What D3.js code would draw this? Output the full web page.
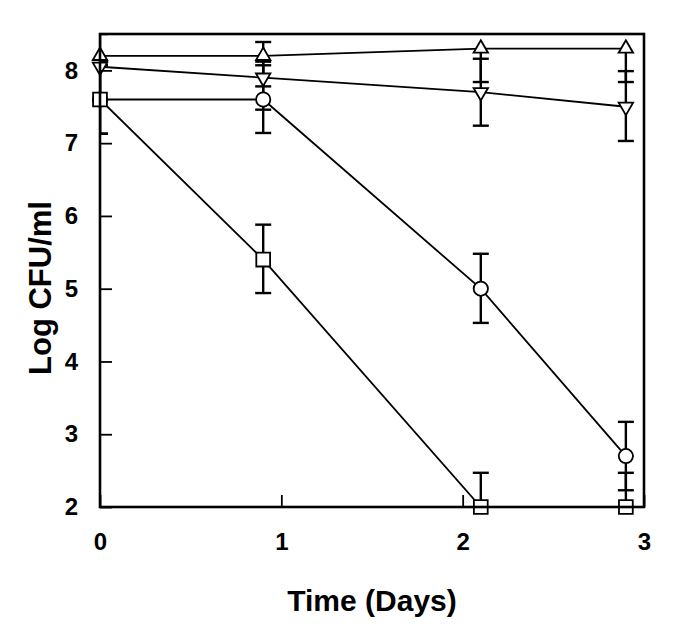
<!DOCTYPE html>
<html>
<head>
<meta charset="utf-8">
<script src="https://cdn.jsdelivr.net/npm/d3@7"></script>
<style>
  body { margin: 0; background: #fff; }
  text { font-family: "Liberation Sans", Arial, sans-serif; font-weight: bold; }
</style>
</head>
<body>
<div id="chart"></div>
<script>
// time points (days)
const days = [0, 0.9, 2.1, 2.9];

// open triangle (up)
const upMean = [8.2, 8.2, 8.3, 8.3];
const upLow = [8.12, 7.78, 7.84, 7.84];
const upHigh = [8.2, 8.39, 8.3, 8.3];

// open triangle (down)
const downMean = [8.05, 7.9, 7.7, 7.5];
const downLow = [7.6, 7.46, 7.24, 7.03];
const downHigh = [8.5, 8.12, 8.16, 7.99];

// open circle
const circleMean = [7.6, 7.6, 5.0, 2.7];
const circleLow = [7.13, 7.14, 4.53, 2.23];
const circleHigh = [8.07, 8.07, 5.48, 3.17];

// open square
const squareMean = [7.6, 5.4, 2.0, 2.0];
const squareLow = [7.13, 4.94, 2.0, 2.0];
const squareHigh = [8.07, 5.88, 2.47, 2.47];

const xTicks = [0, 1, 2, 3];
const yTicks = [2, 3, 4, 5, 6, 7, 8];

const width = 685, height = 639;
const margin = {top: 34, right: 41, bottom: 132, left: 100};

const svg = d3.select("#chart").append("svg")
  .attr("width", width)
  .attr("height", height);

const x = d3.scaleLinear().domain([0, 3]).range([margin.left, width - margin.right]);
const y = d3.scaleLinear().domain([2, 8.5]).range([height - margin.bottom, margin.top]);

svg.append("clipPath").attr("id", "plot")
  .append("rect")
  .attr("x", x(0)).attr("y", y(8.5))
  .attr("width", x(3) - x(0)).attr("height", y(2) - y(8.5));

// the series, built from the arrays above
const series = [
  {shape: d3.symbolTriangle, rot: 0, size: 90, mean: upMean, lo: upLow, hi: upHigh},
  {shape: d3.symbolTriangle, rot: 180, size: 90, mean: downMean, lo: downLow, hi: downHigh},
  {shape: d3.symbolCircle, rot: 0, size: 160, mean: circleMean, lo: circleLow, hi: circleHigh},
  {shape: d3.symbolSquare, rot: 0, size: 190, mean: squareMean, lo: squareLow, hi: squareHigh}
];
series.forEach(s => {
  s.points = days.map((d, i) => ({day: d, v: s.mean[i], lo: s.lo[i], hi: s.hi[i]}));
});

const g = svg.append("g").attr("clip-path", "url(#plot)");

const line = d3.line().x(d => x(d.day)).y(d => y(d.v));

// connecting lines
g.selectAll(".series-line")
  .data(series)
  .enter()
  .append("path")
  .attr("class", "series-line")
  .attr("d", d => line(d.points))
  .attr("fill", "none")
  .attr("stroke", "#000")
  .attr("stroke-width", 1.8);

// error bars
const cap = 8;
series.forEach(s => {
  s.points.forEach(p => {
    if (p.lo < p.hi) {
      g.append("line")
        .attr("x1", x(p.day)).attr("x2", x(p.day))
        .attr("y1", y(p.lo)).attr("y2", y(p.hi))
        .attr("stroke", "#000").attr("stroke-width", 2.4);
    }
    if (p.lo < p.v) {
      g.append("line")
        .attr("x1", x(p.day) - cap).attr("x2", x(p.day) + cap)
        .attr("y1", y(p.lo)).attr("y2", y(p.lo))
        .attr("stroke", "#000").attr("stroke-width", 2.4);
    }
    if (p.hi > p.v) {
      g.append("line")
        .attr("x1", x(p.day) - cap).attr("x2", x(p.day) + cap)
        .attr("y1", y(p.hi)).attr("y2", y(p.hi))
        .attr("stroke", "#000").attr("stroke-width", 2.4);
    }
  });
});

// markers
series.forEach(s => {
  svg.selectAll(null)
    .data(s.points)
    .enter()
    .append("path")
    .attr("d", d3.symbol().type(s.shape).size(s.size))
    .attr("transform", d => "translate(" + x(d.day) + "," + y(d.v) + ") rotate(" + s.rot + ")")
    .attr("fill", "#fff")
    .attr("stroke", "#000")
    .attr("stroke-width", 1.8);
});

// frame
svg.append("rect")
  .attr("x", x(0)).attr("y", y(8.5))
  .attr("width", x(3) - x(0)).attr("height", y(2) - y(8.5))
  .attr("fill", "none")
  .attr("stroke", "#000")
  .attr("stroke-width", 2.6);

// axes with inward ticks
const xAxis = svg.append("g")
  .attr("transform", "translate(0," + y(2) + ")")
  .call(d3.axisBottom(x).tickValues(xTicks).tickSizeInner(-12).tickSizeOuter(0).tickPadding(26).tickFormat(d3.format("d")));
xAxis.select(".domain").remove();
xAxis.selectAll("line").attr("stroke-width", 1.8);
xAxis.selectAll("text").style("font-size", "24px").attr("fill", "#000");

const yAxis = svg.append("g")
  .attr("transform", "translate(" + x(0) + ",0)")
  .call(d3.axisLeft(y).tickValues(yTicks).tickSizeInner(-12).tickSizeOuter(0).tickPadding(22).tickFormat(d3.format("d")));
yAxis.select(".domain").remove();
yAxis.selectAll("line").attr("stroke-width", 1.8);
yAxis.selectAll("text").style("font-size", "24px").attr("fill", "#000");

// axis titles
svg.append("text")
  .attr("x", (x(0) + x(3)) / 2)
  .attr("y", 611)
  .attr("text-anchor", "middle")
  .style("font-size", "30px")
  .text("Time (Days)");

svg.append("text")
  .attr("transform", "translate(51,288) rotate(-90)")
  .attr("text-anchor", "middle")
  .style("font-size", "31px")
  .text("Log CFU/ml");
</script>
</body>
</html>
